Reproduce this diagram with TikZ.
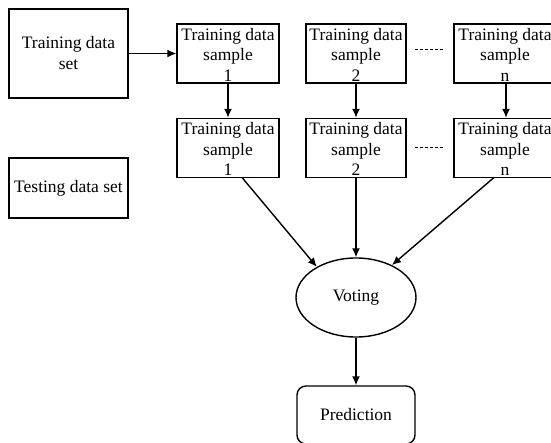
\documentclass[tikz,border=0pt]{standalone}
\usepackage{fontspec}
\setmainfont{Liberation Serif}
\usetikzlibrary{arrows.meta,shapes.geometric}
\begin{document}
\begin{tikzpicture}[x=1pt,y=-1pt,
  box/.style={draw,line width=1.4pt,inner sep=0pt,align=center,font=\fontsize{17.5}{21}\selectfont},
  sbox/.style={box,minimum width=102pt,minimum height=59pt},
  txt/.style={inner sep=0pt,align=center,font=\fontsize{17.5}{20.5}\selectfont,yshift=-1pt},
  arr/.style={line width=1.4pt,-{Latex[length=9pt,width=8pt]}},
  dots/.style={line width=0.9pt,dash pattern=on 3pt off 2pt}]
\useasboundingbox (0,0) rectangle (551,443);
\begin{scope}
\clip (0,0) rectangle (551,443);
\node[box,minimum width=119pt,minimum height=89pt] (tds) at (68.5,53.5) {Training data\\set};
\node[box,minimum width=119pt,minimum height=60pt] (test) at (68.5,188) {Testing data set};
\node[sbox,label={[txt]center:{Training data\\sample\\1}}] (a1) at (228,53.5) {};
\node[sbox,minimum width=100pt,label={[txt]center:{Training data\\sample\\2}}] (a2) at (356,53.5) {};
\node[sbox,label={[txt]center:{Training data\\sample\\n}}] (an) at (505,53.5) {};
\node[sbox,label={[txt]center:{Training data\\sample\\1}}] (b1) at (228,148) {};
\node[sbox,minimum width=100pt,label={[txt]center:{Training data\\sample\\2}}] (b2) at (356,148) {};
\node[sbox,label={[txt]center:{Training data\\sample\\n}}] (bn) at (505,148) {};
\node[box,ellipse,minimum width=120pt,minimum height=79pt] (vote) at (356,297.5) {Voting};
\node[box,rounded corners=9pt,minimum width=118pt,minimum height=58pt] (pred) at (356,415) {Prediction};
\coordinate (d1a) at (415,49);
\coordinate (d1b) at (443,49);
\coordinate (d2a) at (415,147);
\coordinate (d2b) at (443,147);
\coordinate (s1) at (242,177.5);
\coordinate (sn) at (494,177.5);
\end{scope}
\draw[arr] (tds.east) -- (a1.west);
\draw[arr] (a1.south) -- (b1.north);
\draw[arr] (a2.south) -- (b2.north);
\draw[arr] (an.south -| 506,0) -- (bn.north -| 506,0);
\draw[arr] (s1) -- (vote.142);
\draw[arr] (b2.south) -- (vote.north);
\draw[arr] (sn) -- (vote.42);
\draw[arr] (vote.south) -- (pred.north);
\draw[dots] (d1a) -- (d1b);
\draw[dots] (d2a) -- (d2b);
\end{tikzpicture}
\end{document}
